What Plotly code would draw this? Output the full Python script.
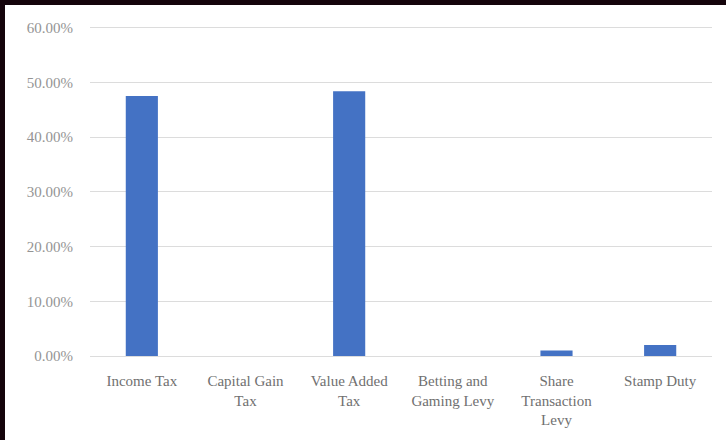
import plotly.graph_objects as go

# Share of tax revenue by tax type
categories = [
    "Income Tax",
    "Capital Gain<br>Tax",
    "Value Added<br>Tax",
    "Betting and<br>Gaming Levy",
    "Share<br>Transaction<br>Levy",
    "Stamp Duty",
]
shares = [47.5, 0.0, 48.4, 0.0, 1.0, 2.0]  # percent
tick_vals = [0, 10, 20, 30, 40, 50, 60]
tick_text = [f"{v:.2f}%" for v in tick_vals]

W, H = 726, 440
ML, MR, MT, MB = 90, 14, 25, 84
PW, PH = W - ML - MR, H - MT - MB

grey_text = "#7f7f7f"
grid = "#dcdcdc"
frame = "#14040b"

fig = go.Figure(
    go.Bar(
        x=categories,
        y=shares,
        marker=dict(color="#4472C4", line=dict(width=0)),
        width=0.31,
    )
)

# dark strips along the top and left edges of the page
def px_to_paper_x(px):
    return (px - ML) / PW

def px_to_paper_y(py):
    return (H - MB - py) / PH

fig.add_shape(type="rect", xref="paper", yref="paper",
              x0=px_to_paper_x(0), x1=px_to_paper_x(5),
              y0=px_to_paper_y(H), y1=px_to_paper_y(0),
              fillcolor=frame, line=dict(width=0), layer="below")
fig.add_shape(type="rect", xref="paper", yref="paper",
              x0=px_to_paper_x(0), x1=px_to_paper_x(W),
              y0=px_to_paper_y(5), y1=px_to_paper_y(0),
              fillcolor=frame, line=dict(width=0), layer="below")

fig.update_layout(
    width=W,
    height=H,
    margin=dict(l=ML, r=MR, t=MT, b=MB, pad=0),
    paper_bgcolor="white",
    plot_bgcolor="white",
    showlegend=False,
    bargap=0.69,
    font=dict(family="Liberation Serif, Times New Roman, serif", color=grey_text),
    xaxis=dict(
        type="category",
        showgrid=False,
        showline=False,
        ticks="",
        tickfont=dict(size=15, color="#707070"),
        ticklabelstandoff=14,
    ),
    yaxis=dict(
        range=[0, 60.5],
        tickvals=tick_vals,
        ticktext=tick_text,
        showgrid=True,
        gridcolor=grid,
        gridwidth=1,
        zeroline=True,
        zerolinecolor=grid,
        zerolinewidth=1,
        showline=False,
        ticks="",
        tickfont=dict(size=15, color="#949494"),
        ticklabelstandoff=16,
    ),
)

fig.write_html("out.html")
